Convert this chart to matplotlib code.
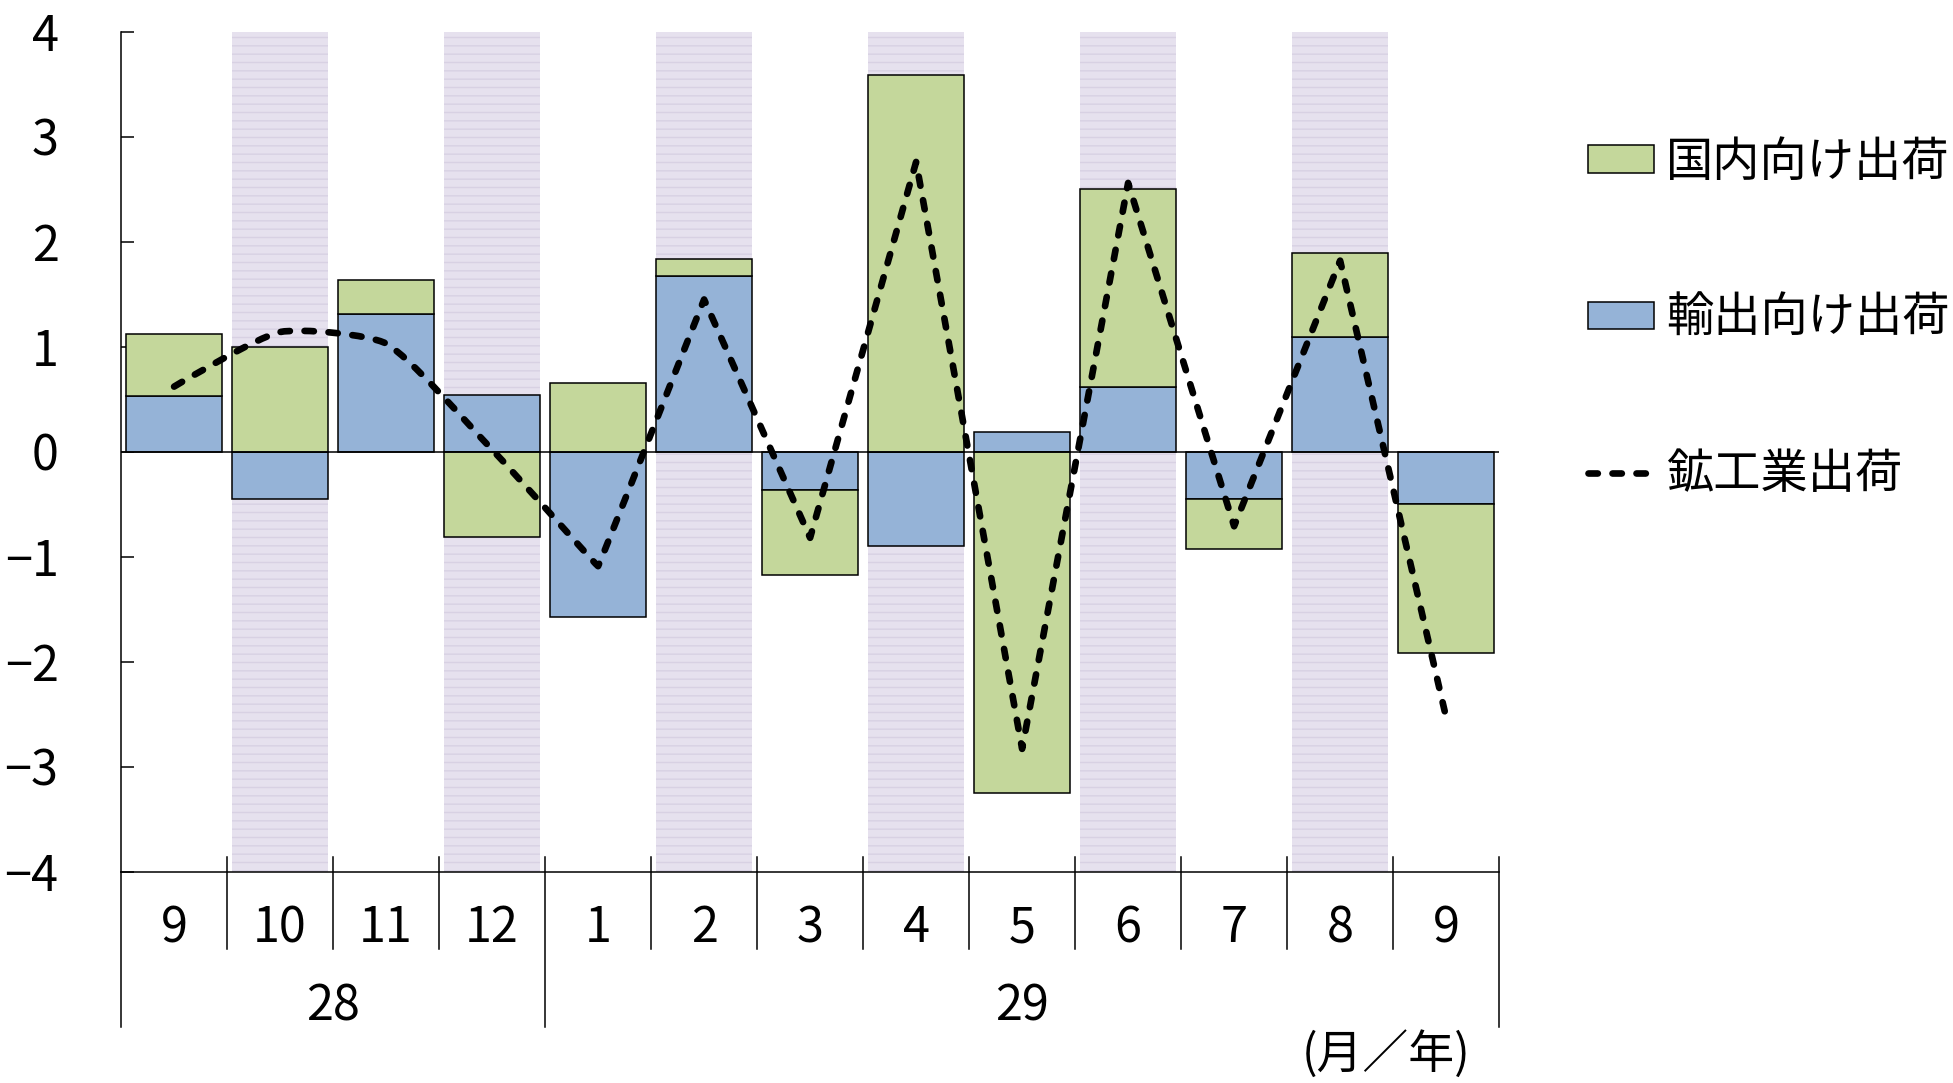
import numpy as np
import matplotlib
matplotlib.use("Agg")
import matplotlib.pyplot as plt
from matplotlib.path import Path
from matplotlib.patches import PathPatch, Patch
from matplotlib.lines import Line2D

plt.rcParams['font.family'] = ['Noto Sans CJK JP', 'DejaVu Sans']

# データ（前月比、%）
months = ["9", "10", "11", "12", "1", "2", "3", "4", "5", "6", "7", "8", "9"]
years = ["28", "29"]
year_span = [(0, 3), (4, 12)]
export = [0.53, -0.45, 1.31, 0.54, -1.57, 1.67, -0.36, -0.90, 0.19, 0.62, -0.45, 1.09, -0.50]
domestic = [0.59, 1.00, 0.33, -0.81, 0.65, 0.17, -0.81, 3.59, -3.25, 1.88, -0.48, 0.80, -1.42]
total = [0.62, 1.14, 1.03, 0.02, -1.09, 1.45, -0.82, 2.76, -2.83, 2.56, -0.71, 1.82, -2.53]

c_dom = "#C4D79B"
c_exp = "#95B3D7"
c_band = "#E6E1EE"

fig = plt.figure(figsize=(19.53, 10.83), dpi=100)
ax = fig.add_axes([0.062, 0.1951, 0.7056, 0.7756])

x = np.arange(len(months))
w = 0.91

ax.set_xlim(-0.5, len(months) - 0.5)
ax.set_ylim(-4, 4)

# 網掛けの帯（偶数番目の月）
band_x = x[1::2]
ax.bar(band_x, 8, bottom=-4, width=w, color=c_band, edgecolor="#D8D1E3",
       linewidth=0, hatch="--", zorder=0)

# 積み上げ（正負を別々に積む）
exp = np.array(export)
dom = np.array(domestic)
dom_bottom = np.where(np.sign(dom) == np.sign(exp), exp, 0)
ax.bar(x, exp, width=w, color=c_exp, edgecolor="black", linewidth=1.1, zorder=2)
ax.bar(x, dom, bottom=dom_bottom, width=w, color=c_dom, edgecolor="black",
       linewidth=1.1, zorder=2)

ax.axhline(0, color="black", lw=1.1, zorder=3)

# 鉱工業出荷（ゆるい平滑線：折れの鋭い所は尖らせたまま）
pts = ax.transData.transform(np.column_stack([x, total]).astype(float))
n = len(pts)

def tangent(i):
    if i == 0 or i == n - 1:
        return np.zeros(2)
    a = pts[i] - pts[i - 1]
    b = pts[i + 1] - pts[i]
    s = (1 + np.dot(a, b) / np.linalg.norm(a) / np.linalg.norm(b)) / 2
    t = pts[i + 1] - pts[i - 1]
    return t / np.linalg.norm(t) * s ** 3

verts = [pts[0]]
codes = [Path.MOVETO]
for i in range(n - 1):
    seg = np.linalg.norm(pts[i + 1] - pts[i]) / 4
    verts += [pts[i] + tangent(i) * seg, pts[i + 1] - tangent(i + 1) * seg, pts[i + 1]]
    codes += [Path.CURVE4] * 3
verts = ax.transData.inverted().transform(np.array(verts))
dash = (0, (1.4, 2.2))
ax.add_patch(PathPatch(Path(verts, codes), fill=False, lw=4.8, ls=dash,
                       capstyle="round", joinstyle="round", edgecolor="black", zorder=4))

ax.set_yticks(range(-4, 5))
ax.tick_params(axis="y", direction="in", length=9.5, width=1.1, labelsize=35, pad=45)
ax.set_xticks([])
for s in ["top", "right"]:
    ax.spines[s].set_visible(False)
ax.spines["left"].set_linewidth(1.1)
ax.spines["bottom"].set_linewidth(1.1)

# 横軸の区切り線とラベル
tr = ax.get_xaxis_transform()
for k in range(1, len(months)):
    xb = k - 0.5
    low = -0.1845 if k == year_span[1][0] else -0.0917
    ax.plot([xb, xb], [0.017, low], color="black", lw=1.1, transform=tr, clip_on=False)
ax.plot([-0.5, -0.5], [0, -0.1845], color="black", lw=1.1, transform=tr, clip_on=False)
ax.plot([len(months) - 0.5] * 2, [0.017, -0.1845], color="black", lw=1.1,
        transform=tr, clip_on=False)
for i, m in enumerate(months):
    ax.text(i, -0.0675, m, transform=tr, ha="center", va="center", fontsize=35)
for yl, (a, b) in zip(years, year_span):
    ax.text((a + b) / 2, -0.1605, yl, transform=tr, ha="center", va="center",
            fontsize=35)

fig.text(0.7527, 0.0265, "(月／年)", ha="right", va="center", fontsize=33)

handles = [Patch(facecolor=c_dom, edgecolor="black", linewidth=1.1),
           Patch(facecolor=c_exp, edgecolor="black", linewidth=1.1),
           Line2D([0], [0], color="black", lw=4.8, ls=dash, dash_capstyle="round")]
labels = ["国内向け出荷", "輸出向け出荷", "鉱工業出荷"]
fig.legend(handles, labels, loc="upper left", bbox_to_anchor=(0.813, 0.872),
           frameon=False, fontsize=34, handlelength=1.4, handleheight=0.53,
           handletextpad=0.25, labelspacing=2.28, borderpad=0, borderaxespad=0)

fig.savefig("out.png", dpi=100)
